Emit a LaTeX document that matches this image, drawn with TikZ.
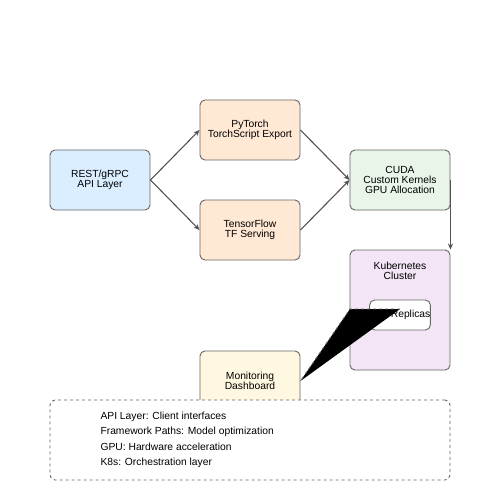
\documentclass[tikz,border=0pt]{standalone}
\usepackage{fontspec}
\setmainfont{Liberation Sans}
\usetikzlibrary{arrows.meta}
\definecolor{apiblue}{HTML}{DAEEFF}
\definecolor{peach}{HTML}{FFE8D4}
\definecolor{mint}{HTML}{E8F5E8}
\definecolor{lilac}{HTML}{F3E5F5}
\definecolor{cream}{HTML}{FFF8E0}
\definecolor{edge}{HTML}{666666}
\begin{document}
\begin{tikzpicture}[x=1pt,y=-1pt,
  box/.style={draw=edge, line width=0.9pt, rounded corners=5pt, align=center, font=\fontsize{10.3}{10.3}\selectfont},
  conn/.style={draw=edge!80!black, line width=1.1pt, -{Stealth[length=6pt,width=5pt]}}]
\useasboundingbox (0,0) rectangle (500,500);
\fill[white] (0,0) rectangle (500,500);
\node[box, fill=apiblue, minimum width=100pt, minimum height=60pt] (api) at (100,180) {REST/gRPC\\API Layer};
\node[box, fill=peach, minimum width=100pt, minimum height=60pt] (pt) at (250,130) {PyTorch\\TorchScript Export};
\node[box, fill=peach, minimum width=100pt, minimum height=60pt] (tf) at (250,230) {TensorFlow\\TF Serving};
\node[box, fill=mint, minimum width=100pt, minimum height=60pt] (cuda) at (400,180) {CUDA\\Custom Kernels\\GPU Allocation};
\node[box, fill=lilac, minimum width=100pt, minimum height=120pt] (k8s) at (400,310) {};
\node[font=\fontsize{10.3}{10.3}\selectfont, align=center] (k8slabel) at (400,271) {Kubernetes\\Cluster};
\node[box, fill=white, minimum width=60pt, minimum height=30pt, inner xsep=0pt] (pods) at (400,315) {Pod Replicas};
\node[box, fill=cream, minimum width=100pt, minimum height=60pt] (mon) at (250,381) {Monitoring\\Dashboard};
\draw[conn] (api.east) -- (pt.west);
\draw[conn] (api.east) -- (tf.west);
\draw[conn] (pt.east) -- (cuda.west);
\draw[conn] (tf.east) -- (cuda.west);
\draw[conn] (cuda.east) -- (k8s.north east);
\coordinate (tipA) at (350,309);
\coordinate (tipB) at (400,309);
\fill[black] (mon.east) -- (tipA) -- (tipB) -- cycle;
\draw[edge, dashed, line width=0.9pt] (tipB) -- (tipA) -- (mon.east);
\node[draw=edge, dashed, line width=0.9pt, rounded corners=5pt, fill=white, minimum width=400pt, minimum height=80pt] (legend) at (250,440) {};
\node[anchor=north west, align=left, font=\fontsize{10.3}{15.3}\selectfont] (legtext) at (97,408.5) {API Layer: Client interfaces\\Framework Paths: Model optimization\\GPU: Hardware acceleration\\K8s: Orchestration layer};
\end{tikzpicture}
\end{document}
